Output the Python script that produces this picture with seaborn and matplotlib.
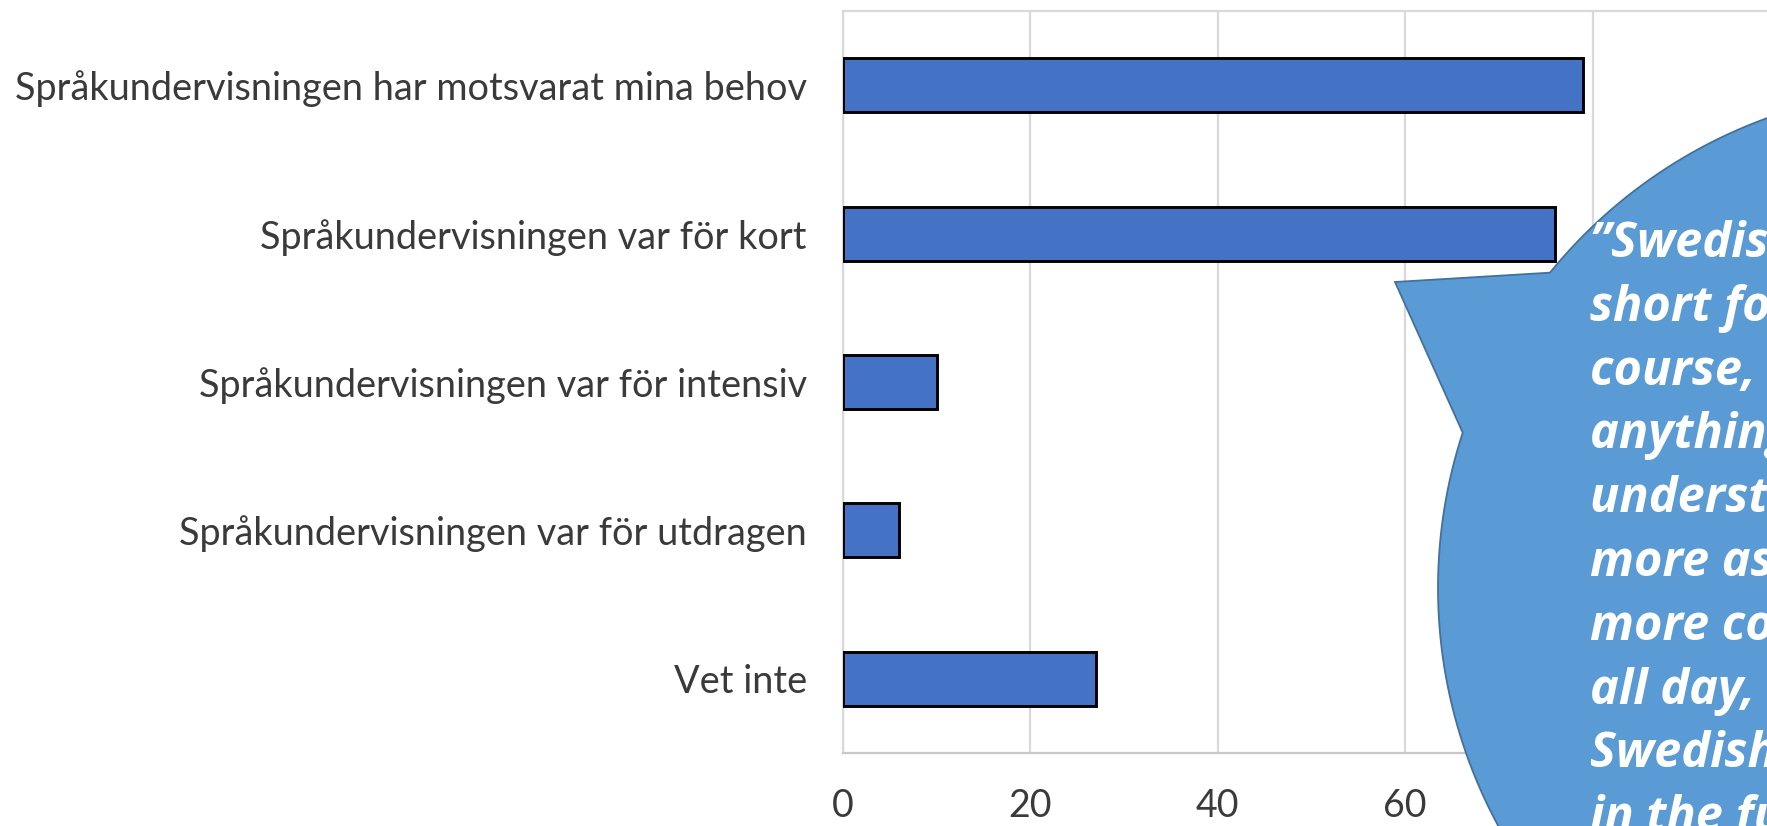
import numpy as np
import pandas as pd
import matplotlib
matplotlib.use("Agg")
import matplotlib.pyplot as plt
from matplotlib.patches import Polygon
import seaborn as sns

# --- DATA ---
categories = [
    "Språkundervisningen har motsvarat mina behov",
    "Språkundervisningen var för kort",
    "Språkundervisningen var för intensiv",
    "Språkundervisningen var för utdragen",
    "Vet inte",
]
values = [79, 76, 10, 6, 27]
xticks = [0, 20, 40, 60, 80, 100]
quote_lines = [
    "\u201dSwedish was too",
    "short for the",
    "course, I didn't learn",
    "anything I could",
    "understand, we need",
    "more assistance and",
    "more courses, maybe",
    "all day, to improve our",
    "Swedish for work",
    "in the future\u201d",
]

W, H = 1767, 826
BAR_COLOR = "#4472C4"
GRID_COLOR = "#d9d9d9"
TEXT_COLOR = "#3a3a3a"

sns.set_theme(style="white")
plt.rcParams["font.family"] = ["Lato", "DejaVu Sans"]

df = pd.DataFrame({"cat": categories, "val": values})

fig = plt.figure(figsize=(W / 100, H / 100), dpi=100)
# plot area: x=0 at px 843, x=100 at px 1780 (just off the right edge)
ax = fig.add_axes([843 / W, 73 / H, (1780 - 843) / W, (815 - 73) / H])

sns.barplot(data=df, x="val", y="cat", orient="h", color=BAR_COLOR,
            edgecolor="black", linewidth=2.1, width=0.365, saturation=1,
            ax=ax, zorder=3)

ax.set_xlim(0, 100)
ax.set_ylim(4.5, -0.5)
ax.set_xticks(xticks)
ax.set_xlabel("")
ax.set_ylabel("")
ax.grid(axis="x", color=GRID_COLOR, lw=1.6, zorder=0)
ax.set_axisbelow(True)
for side in ["left", "top", "bottom", "right"]:
    ax.spines[side].set_color(GRID_COLOR)
    ax.spines[side].set_linewidth(1.6)
ax.spines["bottom"].set_color("#c8c8c8")
ax.tick_params(axis="y", length=0, pad=26, labelsize=27.3, labelcolor=TEXT_COLOR)
ax.tick_params(axis="x", length=0, pad=25, labelsize=27, labelcolor=TEXT_COLOR)

# --- speech bubble (wedge ellipse callout) ---
cx, cy, r = 1938, H - 588, 500
tip = (1395, H - 282)
a_start, a_end = np.deg2rad(140.9), np.deg2rad(161.9 - 360)
theta = np.linspace(a_start, a_end, 300)
arc = np.column_stack([cx + r * np.cos(theta), cy + r * np.sin(theta)])
pts = np.vstack([tip, arc])
pts[:, 0] /= W
pts[:, 1] /= H
bubble = Polygon(pts, closed=True, facecolor="#5B9BD5", edgecolor="#41719C",
                 lw=1.3, transform=fig.transFigure, zorder=5)
fig.add_artist(bubble)

y0, step = 257, 63.8
for i, line in enumerate(quote_lines):
    fig.text(1590 / W, (H - (y0 + i * step)) / H, line, color="white",
             fontsize=35, fontweight="bold", fontstyle="italic",
             family=["Open Sans", "DejaVu Sans"], va="baseline", ha="left",
             zorder=6)

fig.savefig("out.png", dpi=100)
